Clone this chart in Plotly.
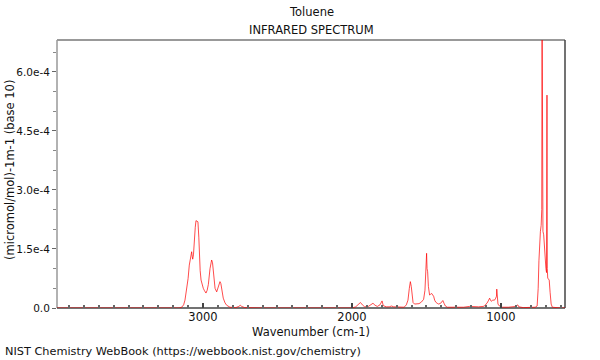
import plotly.graph_objects as go

# Wavenumber (cm-1) and absorbance values (units of 1e-4)
wavenumber = [
    3980, 3900, 3800, 3700, 3600, 3500, 3400, 3300, 3200, 3160,
    3143, 3130, 3121, 3110, 3100, 3092, 3083, 3076, 3072, 3069,
    3064, 3058, 3052, 3047, 3040, 3034, 3028, 3025, 3019, 3013,
    3005, 2998, 2990, 2980, 2972, 2964, 2953, 2946, 2942, 2936,
    2931, 2925, 2919, 2908, 2897, 2886, 2880, 2874, 2864, 2852,
    2841, 2819, 2780, 2760, 2750, 2740, 2720, 2600, 2400, 2200,
    2000, 1975, 1960, 1943, 1930, 1915, 1890, 1870, 1859, 1845,
    1830, 1812, 1798, 1790, 1770, 1750, 1735, 1720, 1680, 1650,
    1635, 1624, 1615, 1608, 1602, 1596, 1590, 1580, 1566, 1550,
    1534, 1519, 1510, 1505, 1501, 1499, 1496, 1492, 1487, 1479,
    1472, 1465, 1458, 1452, 1445, 1438, 1428, 1418, 1405, 1395,
    1390, 1382, 1373, 1360, 1300, 1250, 1212, 1180, 1150, 1120,
    1110, 1100, 1094, 1085, 1076, 1070, 1065, 1055, 1043, 1035,
    1030, 1028, 1026, 1020, 1010, 990, 950, 900, 887, 880,
    850, 800, 770, 757, 750, 745, 741, 735, 730, 726,
    724, 722, 718, 713, 708, 703, 698, 694, 691, 689,
    686, 680, 676, 670, 663, 655, 640, 600, 570,
]
absorbance_e4 = [
    0.0, 0.0, 0.0, 0.0, 0.0, 0.0, 0.0, 0.0, 0.0, 0.0,
    0.02, 0.08, 0.2, 0.45, 0.75, 1.09, 1.26, 1.43, 1.3, 1.24,
    1.35, 1.8, 2.05, 2.22, 2.2, 2.19, 1.8, 1.4, 0.95, 0.71,
    0.58, 0.5, 0.44, 0.38, 0.45, 0.6, 1.0, 1.18, 1.22, 1.15,
    0.95, 0.68, 0.5, 0.41, 0.55, 0.67, 0.62, 0.5, 0.25, 0.13,
    0.07, 0.02, 0.01, 0.04, 0.07, 0.04, 0.01, 0.0, 0.0, 0.0,
    0.0, 0.03, 0.08, 0.14, 0.08, 0.03, 0.04, 0.09, 0.12, 0.07,
    0.04, 0.08, 0.18, 0.06, 0.03, 0.03, 0.05, 0.03, 0.02, 0.02,
    0.08, 0.2, 0.5, 0.67, 0.55, 0.3, 0.14, 0.1, 0.1, 0.11,
    0.15, 0.22, 0.45, 1.0, 0.95, 1.39, 1.0, 0.92, 0.55, 0.33,
    0.35, 0.37, 0.33, 0.3, 0.2, 0.15, 0.12, 0.1, 0.12, 0.16,
    0.19, 0.12, 0.05, 0.02, 0.02, 0.02, 0.04, 0.03, 0.03, 0.04,
    0.05, 0.1, 0.12, 0.18, 0.25, 0.2, 0.17, 0.2, 0.2, 0.25,
    0.3, 0.48, 0.25, 0.1, 0.05, 0.02, 0.02, 0.04, 0.08, 0.03,
    0.01, 0.01, 0.02, 0.05, 0.5, 1.2, 1.6, 1.95, 2.1, 2.5,
    8.0, 2.2, 1.95, 1.86, 1.5, 1.18, 1.0, 0.9, 5.41, 1.0,
    0.76, 0.72, 0.71, 0.4, 0.1, 0.02, 0.01, 0.0, 0.0,
]
absorbance = [v * 1e-4 for v in absorbance_e4]

y_tick_values = [0.0, 1.5e-4, 3.0e-4, 4.5e-4, 6.0e-4]
y_tick_labels = ["0.0", "1.5e-4", "3.0e-4", "4.5e-4", "6.0e-4"]
x_tick_values = [1000, 2000, 3000]

FONT = "DejaVu Sans"
TXT = 11.5

fig = go.Figure()
fig.add_trace(go.Scatter(
    x=wavenumber, y=absorbance, mode="lines",
    line=dict(color="rgba(255,0,0,0.7)", width=1),
    hoverinfo="skip", showlegend=False,
))

fig.update_layout(
    width=600, height=360,
    margin=dict(l=57, r=35, t=40, b=52),
    paper_bgcolor="white", plot_bgcolor="white",
    font=dict(family=FONT, size=TXT, color="#111"),
    xaxis=dict(
        range=[3980, 570], showgrid=False, zeroline=False,
        tickvals=x_tick_values, ticks="inside", ticklen=5, tickwidth=1.5,
        tickcolor="#444", tickfont=dict(size=11.5),
        minor=dict(dtick=100, tick0=0, ticks="inside", ticklen=3, tickcolor="#666"),
        showline=False,
    ),
    yaxis=dict(
        range=[0, 6.81e-4], showgrid=False, zeroline=False,
        tickvals=y_tick_values, ticktext=y_tick_labels,
        ticks="outside", ticklen=4, tickcolor="#666", tickfont=dict(size=10.5),
        minor=dict(dtick=0.5e-4, tick0=0, ticks="outside", ticklen=3, tickcolor="#888"),
        showline=False,
    ),
    shapes=[
        dict(type="line", xref="paper", yref="paper", x0=0, x1=1, y0=1, y1=1,
             line=dict(color="#999", width=2), layer="below"),
        dict(type="line", xref="paper", yref="paper", x0=0, x1=0, y0=0, y1=1,
             line=dict(color="#999", width=1.5), layer="below"),
        dict(type="line", xref="paper", yref="paper", x0=1, x1=1, y0=0, y1=1,
             line=dict(color="#444", width=1.5), layer="below"),
        dict(type="line", xref="paper", yref="paper", x0=0, x1=1, y0=0, y1=0,
             line=dict(color="#444", width=1.5), layer="below"),
    ],
    annotations=[
        dict(text="Toluene", xref="paper", yref="paper", x=0.5, y=1.1045,
             xanchor="center", yanchor="middle", showarrow=False),
        dict(text="INFRARED SPECTRUM", xref="paper", yref="paper", x=0.5, y=1.037,
             xanchor="center", yanchor="middle", showarrow=False),
        dict(text="Wavenumber (cm-1)", xref="paper", yref="paper", x=0.5, y=-0.0896,
             xanchor="center", yanchor="middle", showarrow=False),
        dict(text="(micromol/mol)-1m-1 (base 10)", xref="paper", yref="paper",
             x=-0.0925, y=0.515, xanchor="center", yanchor="middle", textangle=-90,
             showarrow=False),
        dict(text="NIST Chemistry WebBook (https://webbook.nist.gov/chemistry)",
             xref="paper", yref="paper", x=-0.1063, y=-0.164, xanchor="left",
             yanchor="middle", showarrow=False, font=dict(size=11.3)),
    ],
)

fig.write_html(
    "out.html",
    config={"displayModeBar": False},
    post_script="document.body.style.margin='0';document.body.style.padding='0';",
)
